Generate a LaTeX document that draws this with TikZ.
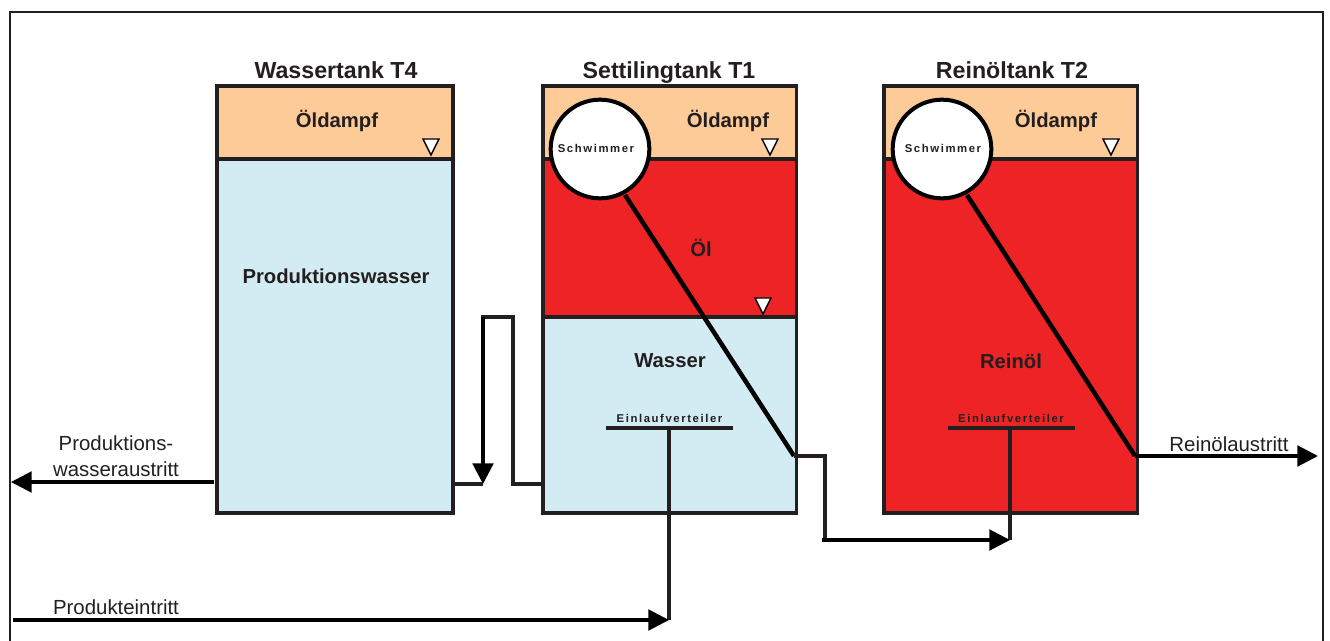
\documentclass[tikz,border=0pt]{standalone}
\usepackage{fontspec}
\setmainfont{Liberation Sans}
\newfontfamily\spacedfont[LetterSpace=14]{Liberation Sans}
\usetikzlibrary{arrows.meta}
\usetikzlibrary{positioning}
\definecolor{inkdark}{HTML}{231F20}
\definecolor{vapour}{HTML}{FDCB98}
\definecolor{water}{HTML}{D3ECF3}
\definecolor{oil}{HTML}{EE2326}
\tikzset{
	layer/.style={draw=inkdark, line width=2.6pt, inner sep=0pt, outer sep=0pt, anchor=north west},
	title/.style={font=\fontsize{17.4}{20}\selectfont\bfseries, text=inkdark, anchor=base},
	medium/.style={font=\fontsize{15.2}{18}\selectfont\bfseries, text=inkdark},
	small/.style={font=\spacedfont\fontsize{8.5}{10}\selectfont\bfseries, text=inkdark},
	stream/.style={font=\fontsize{15.3}{19.5}\selectfont, text=inkdark, align=center},
	float/.style={circle, draw=black, line width=3pt, fill=white, minimum size=74pt, inner sep=0pt},
	pipe/.style={draw=inkdark, line width=2.4pt},
	rod/.style={draw=black, line width=3.4pt},
	flow/.style={draw=black, line width=2.3pt, -{Triangle[length=15.5pt,width=15.5pt]}},
}
\newcommand{\levelmark}[2]{\draw[black, line width=1.1pt, fill=white] (#1-8,#2-8) -- (#1+8,#2-8) -- (#1,#2+8) -- cycle;}
\begin{document}
\begin{tikzpicture}[x=0.75pt, y=-0.75pt]
	\useasboundingbox (0,0) rectangle (1330,641);
	
	% frame
	\draw[inkdark, line width=1.5pt] (10,645) -- (10,12) -- (1323,12) -- (1323,645);
	
	% Wassertank T4
	\node[layer, fill=vapour, minimum width=177pt, minimum height=55pt] (t4top) at (217,86) {};
	\node[layer, fill=water, minimum width=177pt, minimum height=265.5pt] (t4low) at (217,159) {};
	\node[title] (t4title) at (336,78.5) {Wassertank T4};
	\node[medium] (t4vapour) at (337,121) {Öldampf};
	\node[medium] (t4water) at (336,276) {Produktionswasser};
	\levelmark{431}{147}
	
	% Settilingtank T1
	\node[layer, fill=vapour, minimum width=190pt, minimum height=55pt] (t1top) at (543,86) {};
	\node[layer, fill=oil, minimum width=190pt, minimum height=118.5pt] (t1oil) at (543,159) {};
	\node[layer, fill=water, minimum width=190pt, minimum height=147pt] (t1low) at (543,317) {};
	\node[title] (t1title) at (669,78.5) {Settilingtank T1};
	\node[medium] (t1vapour) at (728,121) {Öldampf};
	\node[medium] (t1oiltext) at (701,248) {Öl};
	\node[medium] (t1water) at (670,361) {Wasser};
	\levelmark{770}{147}
	\levelmark{763}{306}
	
	% Reinoeltank T2
	\node[layer, fill=vapour, minimum width=190pt, minimum height=55pt] (t2top) at (884,86) {};
	\node[layer, fill=oil, minimum width=190pt, minimum height=265.5pt] (t2low) at (884,159) {};
	\node[title] (t2title) at (1012,78.5) {Reinöltank T2};
	\node[medium] (t2vapour) at (1056,121) {Öldampf};
	\node[medium] (t2oil) at (1011,361) {Reinöl};
	\levelmark{1111}{147}
	
	% Einlaufverteiler
	\node[small] (t1inlet) at (669.5,418) {Einlaufverteiler};
	\node[small] (t2inlet) at (1011,418) {Einlaufverteiler};
	\draw[pipe] (606,428) coordinate (t1barl) -- (733,428) coordinate (t1barr);
	\draw[pipe] (948,428) coordinate (t2barl) -- (1075,428) coordinate (t2barr);
	\coordinate (t1stem) at (669,428);
	\coordinate (t2stem) at (1010,428);
	
	% Schwimmer
	\coordinate (t1end) at (794,456);
	\coordinate (t2end) at (1135,456);
	\node[float] (t1float) at (600,149) {};
	\node[float] (t2float) at (942,149) {};
	\draw[rod] (t1float) ++(25,46) -- (t1end);
	\draw[rod] (t2float) ++(25,46) -- (t2end);
	\node[small] (t1floattext) at (596,148.5) {Schwimmer};
	\node[small] (t2floattext) at (943,148.5) {Schwimmer};
	
	% Verbindungen
	\coordinate (loopin) at (483,484);
	\coordinate (t4out) at (453,484);
	\coordinate (t1out) at (543,484);
	\draw[pipe] (t4out) -- (loopin);
	\draw[pipe] (t1out) -- (513,484) -- (513,317) -- (481,317);
	\draw[flow] (483,317) -- (loopin);
	
	\coordinate (t1join) at (669,620);
	\draw[pipe] (t1stem) -- (t1join);
	\draw[flow] (13,620) -- (t1join);
	
	\coordinate (t2join) at (1010,540);
	\draw[pipe] (t2stem) -- (t2join);
	\draw[pipe] (t1end) -- (825,456) -- (825,541);
	\draw[flow] (822,540) -- (t2join);
	
	\draw[flow] (214,482) -- (11,482);
	\draw[flow] (t2end) -- (1318,456);
	
	% Stroeme
	\node[stream] (waterout) at (116,456) {Produktions-\\wasseraustritt};
	\node[stream] (feed) at (116,607) {Produkteintritt};
	\node[stream] (oilout) at (1229,444) {Reinölaustritt};
\end{tikzpicture}
\end{document}
